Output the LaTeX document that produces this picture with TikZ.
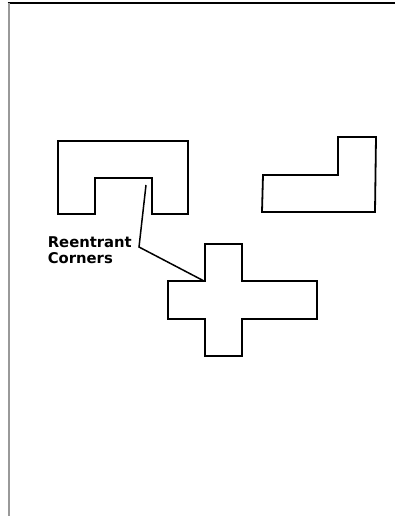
\documentclass[tikz,border=0pt]{standalone}
\usepackage{fontspec}
\usetikzlibrary{positioning}
\newfontfamily\notefont{DejaVu Sans}

\begin{document}
\begin{tikzpicture}[x=1pt, y=-1pt,
		outline/.style={draw=black, line width=1.8pt},
		leader/.style={draw=black, line width=1.5pt},
		note/.style={font=\notefont\bfseries\fontsize{14.8}{16.5}\selectfont, align=left, inner sep=0pt}]
				\useasboundingbox (0,0) rectangle (395,516);
				\draw[black, line width=2pt] (7.5,3) -- (395,3);
				\draw[gray!80, line width=2pt] (8.5,3) -- (8.5,516);
				\draw[outline] (58,141) -- (188,141) -- (188,214) -- (152,214) -- (152,178) -- (95,178) -- (95,214) -- (58,214) -- cycle;
				\draw[outline] (263,175) -- (338,175) -- (338,137) -- (376,137) -- (375,212) -- (262,212) -- cycle;
				\draw[outline] (205,244) -- (242,244) -- (242,281) -- (317,281) -- (317,319) -- (242,319) -- (242,356) -- (205,356) -- (205,319) -- (168,319) -- (168,281) -- (205,281) -- cycle;
				\coordinate (ucorner) at (146,185);
				\coordinate (bend) at (139,247);
				\coordinate (xcorner) at (204,281);
				\node[note, left=7pt of bend, yshift=-3pt] (label) {Reentrant\\Corners};
				\draw[leader] (ucorner) -- (bend) -- (xcorner);
			\end{tikzpicture}
\end{document}
